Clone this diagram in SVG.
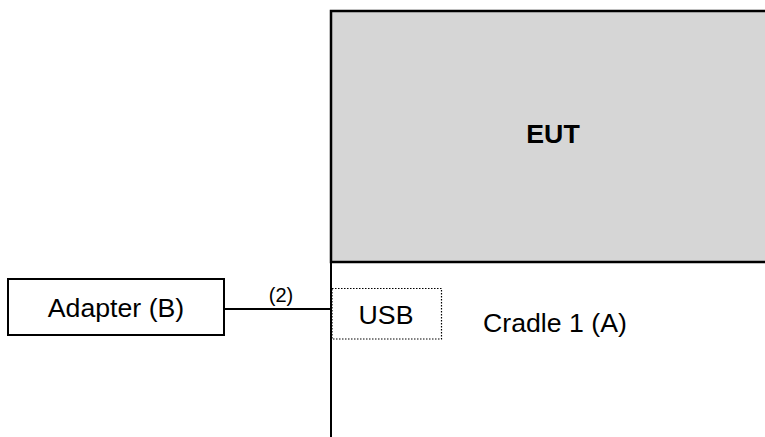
<svg xmlns="http://www.w3.org/2000/svg" width="765" height="437" viewBox="0 0 765 437">
<style>
text{font-family:"Liberation Sans",Arial,sans-serif;fill:#000}
.lbl{font-size:26.7px}
.box{fill:#fff;stroke:#000;stroke-width:2}
.wire{stroke:#000;stroke-width:2;fill:none}
</style>
<rect width="765" height="437" fill="#fff"/>
<g id="eut">
<rect x="331" y="11" width="440" height="251" fill="#d6d6d6" stroke="#000" stroke-width="2.5"/>
<text x="553" y="143" class="lbl" font-weight="bold" text-anchor="middle">EUT</text>
</g>
<g id="cradle">
<line x1="331" y1="262" x2="331" y2="437" class="wire"/>
<text x="483" y="332" class="lbl">Cradle 1 (A)</text>
</g>
<g id="usb">
<rect x="332" y="288.5" width="109.5" height="50.5" fill="none" stroke="#000" stroke-width="1.2" stroke-dasharray="1.5,1.5"/>
<text x="386" y="324" class="lbl" text-anchor="middle">USB</text>
</g>
<g id="adapter">
<rect x="8" y="279" width="216" height="56" class="box"/>
<text x="116" y="317" class="lbl" text-anchor="middle">Adapter (B)</text>
</g>
<g id="connectors">
<line x1="224" y1="309" x2="331" y2="309" class="wire"/>
<text x="281" y="302" font-size="20" text-anchor="middle">(2)</text>
</g>
</svg>
